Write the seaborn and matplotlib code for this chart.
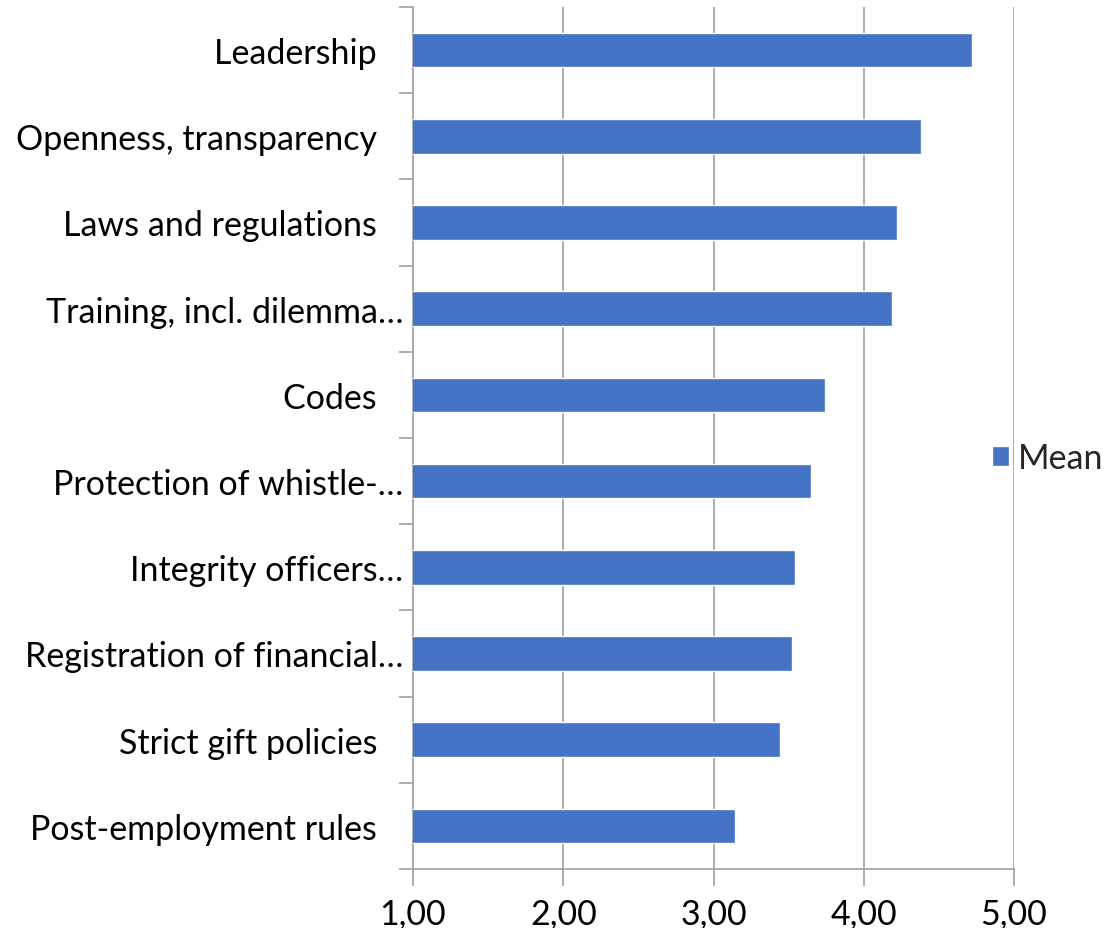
import matplotlib
matplotlib.use("Agg")
import matplotlib.pyplot as plt
import matplotlib.ticker as mticker
import seaborn as sns
import pandas as pd

categories = [
    "Leadership   ",
    "Openness, transparency   ",
    "Laws and regulations   ",
    "Training, incl. dilemma…",
    "Codes   ",
    "Protection of whistle-…",
    "Integrity officers…",
    "Registration of financial…",
    "Strict gift policies   ",
    "Post-employment rules   ",
]
means = [4.72, 4.38, 4.22, 4.19, 3.74, 3.65, 3.54, 3.52, 3.44, 3.14]
x_ticks = [1, 2, 3, 4, 5]
series_name = "Mean"

sns.set_theme(style="white")
plt.rcParams["font.family"] = ["Lato", "DejaVu Sans"]

df = pd.DataFrame({"category": categories, "mean": means})

fig = plt.figure(figsize=(11.07, 9.29), dpi=100)
ax = fig.add_axes([413 / 1107, 1 - 870 / 929, (1014 - 413) / 1107, (870 - 8) / 929])

sns.barplot(data=df, x="mean", y="category", orient="h", color="#4472C4",
            width=0.4, saturation=1, label=series_name, ax=ax, zorder=3)

grid_col = "#A6A6A6"
fs = 24.5
ax.set_xlim(1, 5)
ax.set_ylim(len(categories) - 0.5, -0.5)
ax.set_xticks(x_ticks)
ax.xaxis.set_major_formatter(mticker.FuncFormatter(lambda v, p: f"{v:.2f}".replace(".", ",")))
ax.grid(axis="x", color=grid_col, linewidth=1.3, zorder=0)
ax.set_axisbelow(True)

for side in ["top", "right"]:
    ax.spines[side].set_visible(False)
for side in ["left", "bottom"]:
    ax.spines[side].set_color(grid_col)
    ax.spines[side].set_linewidth(1.3)

ax.set_xlabel("")
ax.set_ylabel("")

# category separators on the y axis
ax.set_yticks([i - 0.5 for i in range(len(categories) + 1)], minor=True)
ax.tick_params(axis="y", which="minor", length=10, width=1.3, color=grid_col, direction="out", left=True)
ax.tick_params(axis="y", which="major", length=0, pad=7, labelsize=fs, labelcolor="black")
ax.tick_params(axis="x", which="major", length=12, width=1.3, color=grid_col, direction="out",
               bottom=True, pad=8, labelsize=fs, labelcolor="black")

leg = ax.legend(loc="center left", bbox_to_anchor=(0.963, 0.477), frameon=False,
                fontsize=fs, handlelength=0.52, handleheight=0.52, handletextpad=0.25,
                borderaxespad=0, borderpad=0)

fig.savefig("out.png", dpi=100)
